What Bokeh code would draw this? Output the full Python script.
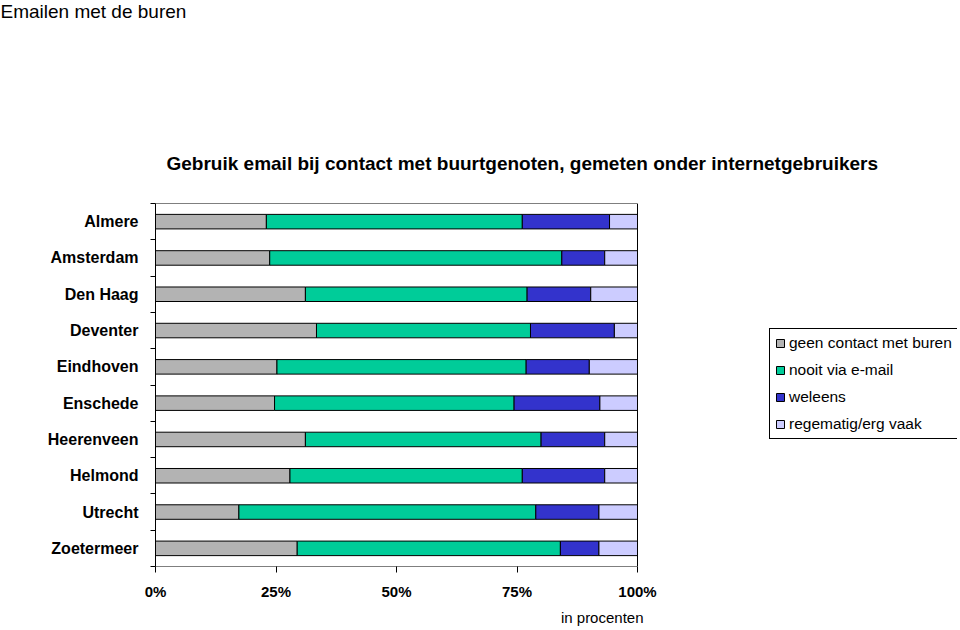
from bokeh.plotting import figure
from bokeh.models import ColumnDataSource, Range1d, FixedTicker, Title, Legend, LegendItem
from bokeh.embed import file_html
from bokeh.resources import INLINE

cities = ["Almere", "Amsterdam", "Den Haag", "Deventer", "Eindhoven",
          "Enschede", "Heerenveen", "Helmond", "Utrecht", "Zoetermeer"]
geen_contact = [23.0, 23.7, 31.1, 33.4, 25.2, 24.7, 31.1, 27.9, 17.3, 29.4]
nooit_email = [53.1, 60.6, 46.0, 44.4, 51.7, 49.7, 48.9, 48.2, 61.6, 54.6]
weleens = [18.1, 8.9, 13.2, 17.4, 13.1, 17.8, 13.2, 17.1, 13.1, 8.0]
regelmatig = [5.8, 6.8, 9.7, 4.8, 10.0, 7.8, 6.8, 6.8, 8.0, 8.0]

series_labels = ["geen contact met buren", "nooit via e-mail", "weleens", "regematig/erg vaak"]
series_colors = ["#b3b3b3", "#00cc99", "#3333cc", "#ccccff"]
x_ticks = [0, 25, 50, 75, 100]
x_tick_labels = ["0%", "25%", "50%", "75%", "100%"]

title_text = "Gebruik email bij contact met buurtgenoten, gemeten onder internetgebruikers"
page_title = "Emailen met de buren"
x_label = "in procenten"

FONT = "Liberation Sans"

# layout (pixels)
W, H = 960, 630
LEFT, TOP, BOTTOM, RIGHT = 155, 203, 64, 3
BOX_W = 482          # width of the bar area (0..100%)
FRAME_W = W - LEFT - RIGHT

n = len(cities)
ypos = [n - 1 - i for i in range(n)]
keys = ["geen", "nooit", "weleens", "regelmatig"]
src = ColumnDataSource(dict(y=ypos, geen=geen_contact, nooit=nooit_email,
                            weleens=weleens, regelmatig=regelmatig))

x_lo, x_hi = x_ticks[0], x_ticks[-1]
x_end = x_lo + (x_hi - x_lo) * FRAME_W / BOX_W

p = figure(width=W, height=H, output_backend="svg", toolbar_location=None,
           x_range=Range1d(x_lo, x_end), y_range=Range1d(-0.5, n - 0.5),
           min_border_left=LEFT, min_border_right=RIGHT,
           min_border_top=TOP, min_border_bottom=BOTTOM)
p.background_fill_color = "white"
p.border_fill_color = "white"
p.outline_line_color = None
p.xgrid.visible = False
p.ygrid.visible = False

renderers = p.hbar_stack(keys, y="y", height=0.4, color=series_colors,
                         line_color="black", line_width=1, source=src)

# plot-area box (0..100%, all categories)
p.quad(left=[x_lo], right=[x_hi], bottom=[-0.5], top=[n - 0.5],
       fill_color=None, line_color="black", line_width=1)

# x axis
xa = p.xaxis[0]
xa.ticker = FixedTicker(ticks=x_ticks)
xa.major_label_overrides = {t: l for t, l in zip(x_ticks, x_tick_labels)}
xa.major_tick_out = 6
xa.major_tick_in = 0
xa.minor_tick_out = 0
xa.minor_tick_in = 0
xa.axis_line_color = None
xa.major_tick_line_color = "black"
xa.major_label_text_font = FONT
xa.major_label_text_font_size = "15px"
xa.major_label_text_font_style = "bold"
xa.major_label_text_color = "black"
xa.major_label_standoff = 10

# y axis
ya = p.yaxis[0]
ya.ticker = FixedTicker(ticks=ypos, minor_ticks=[k - 0.5 for k in range(n + 1)])
ya.major_label_overrides = {y: c for y, c in zip(ypos, cities)}
ya.major_tick_out = 0
ya.major_tick_in = 0
ya.minor_tick_out = 5
ya.minor_tick_in = 0
ya.minor_tick_line_color = "black"
ya.axis_line_color = "black"
ya.major_label_text_font = FONT
ya.major_label_text_font_size = "16px"
ya.major_label_text_font_style = "bold"
ya.major_label_text_color = "black"
ya.major_label_standoff = 12

# titles: page title is the outermost (p.title); chart title next to the frame
p.title.text = page_title
p.title.align = "left"
p.title.offset = -LEFT
p.title.text_font = FONT
p.title.text_font_size = "19px"
p.title.text_font_style = "normal"
p.title.text_color = "black"
p.title.vertical_align = "top"
p.title.standoff = 0

p.add_layout(Title(text=title_text, align="left", offset=11, text_font=FONT,
                   text_font_size="19px", text_font_style="bold", text_color="black",
                   standoff=59),
             "above")
# empty gap between the chart title and the page title
p.add_layout(Title(text=" ", text_font=FONT, text_font_size="1px", standoff=95), "above")

p.add_layout(Title(text=x_label, align="right", offset=FRAME_W - BOX_W - 6, text_font=FONT,
                   text_font_size="15px", text_font_style="normal", text_color="black",
                   standoff=9),
             "below")

items = [LegendItem(label=lab, renderers=[r]) for lab, r in zip(series_labels, renderers)]
legend = Legend(items=items, location=(614, 127), orientation="vertical",
                border_line_color="black", border_line_width=1, border_line_alpha=1,
                background_fill_color="white", background_fill_alpha=1,
                padding=5, spacing=9, margin=0,
                glyph_width=10, glyph_height=10, label_height=18, label_standoff=4,
                label_text_font=FONT, label_text_font_size="15.5px", label_text_color="black")
p.add_layout(legend)

open("out.html", "w").write(file_html(p, INLINE))
